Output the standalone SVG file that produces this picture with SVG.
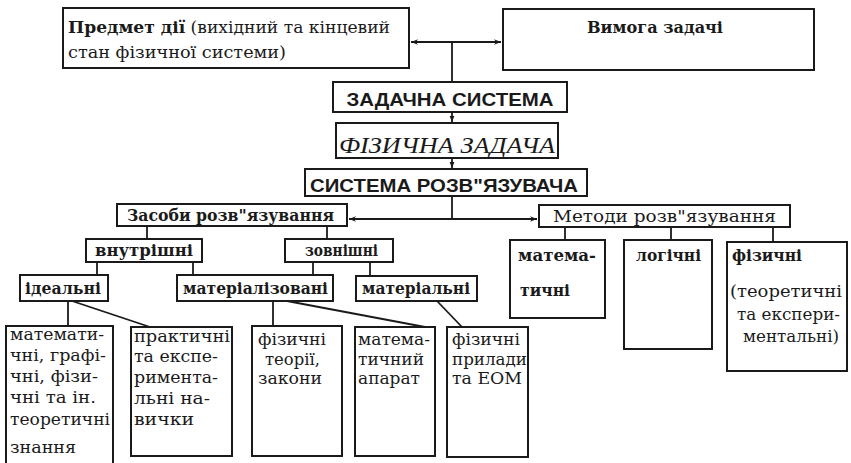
<svg xmlns="http://www.w3.org/2000/svg" width="851" height="463" viewBox="0 0 851 463">
<style>
rect{fill:#fff;stroke:#1a1a1a;stroke-width:2}
.c{stroke:#1a1a1a;stroke-width:1.8;fill:none}
.s{font-family:"DejaVu Serif","Liberation Serif",serif;font-size:17.5px;fill:#1a1a1a}
.b{font-weight:bold}
.h{font-family:"Liberation Sans",Arial,sans-serif;font-weight:bold;font-size:18px;fill:#1a1a1a}
.i{font-family:"Liberation Serif","DejaVu Serif",serif;font-style:italic;font-size:24px;fill:#1a1a1a}
</style>
<defs>
<marker id="ah" viewBox="0 0 10 10" refX="10" refY="5" markerWidth="9" markerHeight="7" orient="auto-start-reverse" markerUnits="userSpaceOnUse">
<path d="M0,1 L10,5 L0,9 L3,5 Z" fill="#1a1a1a"/>
</marker>
<marker id="sm" viewBox="0 0 10 10" refX="10" refY="5" markerWidth="6" markerHeight="6" orient="auto" markerUnits="userSpaceOnUse">
<path d="M0,1 L10,5 L0,9 Z" fill="#1a1a1a"/>
</marker>
</defs>

<g id="connectors">
<line class="c" x1="411" y1="42" x2="501" y2="42" marker-start="url(#ah)" marker-end="url(#ah)"/>
<line class="c" x1="452" y1="42" x2="452" y2="82"/>
<line class="c" x1="452" y1="112" x2="452" y2="122" marker-end="url(#sm)"/>
<line class="c" x1="452" y1="158" x2="452" y2="168" marker-end="url(#sm)"/>
<line class="c" x1="452" y1="196" x2="452" y2="219"/>
<line class="c" x1="349" y1="219" x2="537" y2="219" marker-start="url(#ah)" marker-end="url(#ah)"/>
<line class="c" x1="565" y1="227" x2="565" y2="240"/>
<line class="c" x1="671" y1="227" x2="671" y2="240"/>
<line class="c" x1="773" y1="227" x2="773" y2="242"/>
<line class="c" x1="147" y1="226" x2="147" y2="239"/>
<line class="c" x1="327" y1="226" x2="327" y2="239"/>
<line class="c" x1="97" y1="262" x2="97" y2="275"/>
<line class="c" x1="193" y1="262" x2="193" y2="275"/>
<line class="c" x1="313" y1="262" x2="313" y2="275"/>
<line class="c" x1="370" y1="262" x2="370" y2="276"/>
<line class="c" x1="68" y1="301" x2="68" y2="326"/>
<line class="c" x1="72" y1="301" x2="150" y2="327"/>
<line class="c" x1="273" y1="301" x2="273" y2="326"/>
<line class="c" x1="287" y1="301" x2="425" y2="327"/>
<line class="c" x1="437" y1="301" x2="462" y2="327"/>
</g>

<g id="predmet">
<rect x="63" y="8" width="346" height="60"/>
<text class="s" x="68" y="33" textLength="322" lengthAdjust="spacingAndGlyphs"><tspan class="b">Предмет дії</tspan> (вихідний та кінцевий</text>
<text class="s" x="68" y="58" textLength="218" lengthAdjust="spacingAndGlyphs">стан фізичної системи)</text>
</g>

<g id="vymoha">
<rect x="503" y="9" width="311" height="61"/>
<text class="s b" x="655" y="33" text-anchor="middle" textLength="136" lengthAdjust="spacingAndGlyphs">Вимога задачі</text>
</g>

<g id="zadachna">
<rect x="333" y="82" width="234" height="30"/>
<text class="h" x="450" y="106" text-anchor="middle" textLength="207" lengthAdjust="spacingAndGlyphs">ЗАДАЧНА СИСТЕМА</text>
</g>

<g id="fizychna">
<rect x="336" y="123" width="222" height="35"/>
<text class="i" x="447" y="153" text-anchor="middle" textLength="216" lengthAdjust="spacingAndGlyphs">ФІЗИЧНА ЗАДАЧА</text>
</g>

<g id="systema">
<rect x="305" y="169" width="282" height="27"/>
<text class="h" x="444" y="192" text-anchor="middle" textLength="268" lengthAdjust="spacingAndGlyphs">СИСТЕМА РОЗВ"ЯЗУВАЧА</text>
</g>

<g id="zasoby">
<rect x="117" y="204" width="230" height="22"/>
<text class="s b" x="127" y="221" textLength="207" lengthAdjust="spacingAndGlyphs">Засоби розв"язування</text>
</g>

<g id="metody">
<rect x="539" y="205" width="251" height="22"/>
<text class="s" x="553" y="222" textLength="223" lengthAdjust="spacingAndGlyphs">Методи розв"язування</text>
</g>

<g id="vnutrishni">
<rect x="86" y="239" width="116" height="23"/>
<text class="s b" x="95" y="256" textLength="98" lengthAdjust="spacingAndGlyphs">внутрішні</text>
</g>

<g id="zovnishni">
<rect x="285" y="239" width="108" height="23"/>
<text class="s b" x="305" y="256" textLength="73" lengthAdjust="spacingAndGlyphs">зовнішні</text>
</g>

<g id="idealni">
<rect x="20" y="275" width="88" height="26"/>
<text class="s b" x="25" y="294" textLength="76" lengthAdjust="spacingAndGlyphs">ідеальні</text>
</g>

<g id="materializovani">
<rect x="177" y="275" width="156" height="26"/>
<text class="s b" x="183" y="294" textLength="145" lengthAdjust="spacingAndGlyphs">матеріалізовані</text>
</g>

<g id="materialni">
<rect x="356" y="276" width="121" height="25"/>
<text class="s b" x="362" y="294" textLength="108" lengthAdjust="spacingAndGlyphs">матеріальні</text>
</g>

<g id="mat-znannia">
<rect x="6" y="326" width="107" height="150"/>
<text class="s" x="10" y="340" textLength="94" lengthAdjust="spacingAndGlyphs">математи-</text>
<text class="s" x="10" y="361" textLength="96" lengthAdjust="spacingAndGlyphs">чні, графі-</text>
<text class="s" x="10" y="382" textLength="88" lengthAdjust="spacingAndGlyphs">чні, фізи-</text>
<text class="s" x="10" y="403" textLength="86" lengthAdjust="spacingAndGlyphs">чні та ін.</text>
<text class="s" x="10" y="425" textLength="100" lengthAdjust="spacingAndGlyphs">теоретичні</text>
<text class="s" x="10" y="453" textLength="66" lengthAdjust="spacingAndGlyphs">знання</text>
</g>

<g id="praktychni">
<rect x="131" y="327" width="101" height="129"/>
<text class="s" x="134" y="342" textLength="96" lengthAdjust="spacingAndGlyphs">практичні</text>
<text class="s" x="134" y="362" textLength="84" lengthAdjust="spacingAndGlyphs">та експе-</text>
<text class="s" x="134" y="383" textLength="84" lengthAdjust="spacingAndGlyphs">римента-</text>
<text class="s" x="134" y="404" textLength="76" lengthAdjust="spacingAndGlyphs">льні на-</text>
<text class="s" x="134" y="425" textLength="60" lengthAdjust="spacingAndGlyphs">вички</text>
</g>

<g id="teorii">
<rect x="252" y="326" width="90" height="130"/>
<text class="s" x="258" y="345" textLength="68" lengthAdjust="spacingAndGlyphs">фізичні</text>
<text class="s" x="265" y="365" textLength="55" lengthAdjust="spacingAndGlyphs">теорії,</text>
<text class="s" x="258" y="384" textLength="64" lengthAdjust="spacingAndGlyphs">закони</text>
</g>

<g id="aparat">
<rect x="355" y="327" width="80" height="129"/>
<text class="s" x="358" y="345" textLength="72" lengthAdjust="spacingAndGlyphs">матема-</text>
<text class="s" x="358" y="365" textLength="66" lengthAdjust="spacingAndGlyphs">тичний</text>
<text class="s" x="358" y="384" textLength="62" lengthAdjust="spacingAndGlyphs">апарат</text>
</g>

<g id="prylady">
<rect x="447" y="327" width="81" height="130"/>
<text class="s" x="452" y="345" textLength="68" lengthAdjust="spacingAndGlyphs">фізичні</text>
<text class="s" x="452" y="365" textLength="75" lengthAdjust="spacingAndGlyphs">прилади</text>
<text class="s" x="452" y="384" textLength="70" lengthAdjust="spacingAndGlyphs">та ЕОМ</text>
</g>

<g id="matematychni">
<rect x="510" y="240" width="95" height="78"/>
<text class="s b" x="518" y="261" textLength="78" lengthAdjust="spacingAndGlyphs">матема-</text>
<text class="s b" x="520" y="296" textLength="50" lengthAdjust="spacingAndGlyphs">тичні</text>
</g>

<g id="logichni">
<rect x="624" y="240" width="88" height="109"/>
<text class="s b" x="636" y="261" textLength="65" lengthAdjust="spacingAndGlyphs">логічні</text>
</g>

<g id="fizychni">
<rect x="727" y="242" width="120" height="129"/>
<text class="s b" x="732" y="261" textLength="70" lengthAdjust="spacingAndGlyphs">фізичні</text>
<text class="s" x="730" y="297" textLength="112" lengthAdjust="spacingAndGlyphs">(теоретичні</text>
<text class="s" x="737" y="320" textLength="103" lengthAdjust="spacingAndGlyphs">та експери-</text>
<text class="s" x="743" y="342" textLength="96" lengthAdjust="spacingAndGlyphs">ментальні)</text>
</g>
</svg>
